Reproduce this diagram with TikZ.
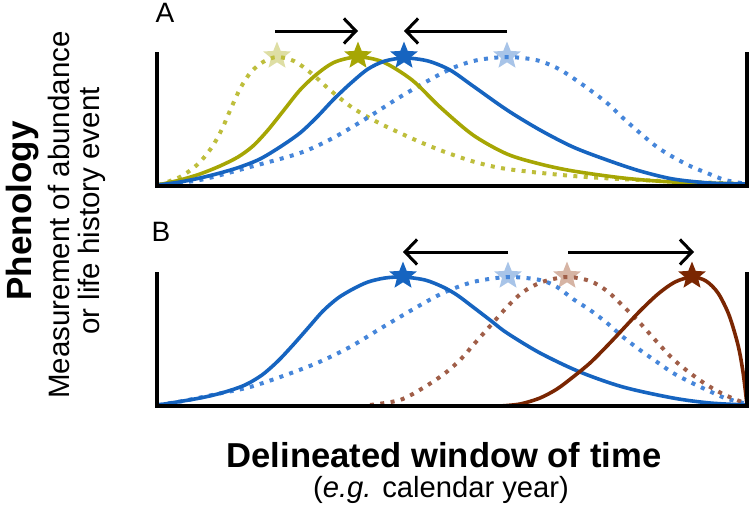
\documentclass[tikz,border=0pt]{standalone}
\usepackage{fontspec}
\setmainfont{Liberation Sans}
\usetikzlibrary{shapes.geometric,arrows.meta}
\definecolor{blueS}{RGB}{22,100,192}
\definecolor{blueD}{RGB}{70,134,218}
\definecolor{blueL}{RGB}{168,196,232}
\definecolor{oliveS}{RGB}{166,166,4}
\definecolor{oliveD}{RGB}{190,190,60}
\definecolor{oliveL}{RGB}{222,222,164}
\definecolor{brownS}{RGB}{122,38,2}
\definecolor{brownD}{RGB}{160,94,72}
\definecolor{brownL}{RGB}{214,180,164}
\begin{document}
\begin{tikzpicture}[x=1pt,y=-1pt,
  axisline/.style={line width=3.4pt, line join=miter},
  solidcurve/.style={line width=3.6pt, line join=round},
  dotcurve/.style={line width=4pt, dash pattern=on 4pt off 6.4pt},
  starmark/.style={star, star points=5, star point ratio=2.3, minimum size=29pt, inner sep=0pt, draw=none},
  shiftarrow/.style={line width=3pt, -{Straight Barb[length=12pt,width=25pt]}},
  lab/.style={inner sep=0pt, font=\fontsize{28}{30}\selectfont}
]
\useasboundingbox (0,0) rectangle (750,509);

% ---------- Panel A ----------
\coordinate (A1) at (157,52);
\coordinate (A2) at (157,186);
\coordinate (A3) at (747,186);
\coordinate (A4) at (747,52);
\node[lab] (labA) at (165,13) {A};

% light stars (behind dotted curves)
\node[starmark, fill=oliveL] (sOA) at (277,56) {};
\node[starmark, fill=blueL] (sBA) at (507,56) {};

% olive dotted
\draw[dotcurve, oliveD] plot[smooth] coordinates {(158,185) (180,177) (198,164) (212,147) (222,129) (232,106) (241,87) (251,72) (263,62) (277,57) (294,61) (311,73) (330,90) (350,106) (366,116) (383,125) (400,133) (420,142) (445,152) (475,162) (507,169) (573,176) (640,180) (747,184)};
% blue dotted
\draw[dotcurve, blueD] plot[smooth] coordinates {(158,185) (200,180) (250,167) (300,153) (333,138) (367,118) (400,97) (433,78) (455,67) (478,60) (507,57) (536,60) (557,68) (573,78) (590,90) (607,103) (623,118) (640,133) (657,147) (673,157) (690,166) (707,173) (725,180) (747,184)};
% olive solid
\draw[solidcurve, oliveS] plot[smooth] coordinates {(158,185) (180,180) (200,174) (220,166) (238,157) (253,146) (268,130) (284,110) (300,90) (317,74) (335,62) (358,57) (383,62) (412,80) (440,107) (473,135) (507,154) (540,164) (573,171) (623,178) (673,182) (747,184)};
% blue solid
\draw[solidcurve, blueS] plot[smooth] coordinates {(158,185) (180,182) (200,178) (220,173) (240,167) (260,159) (280,147) (300,133) (317,117) (334,99) (351,83) (368,69) (385,61) (405,58) (428,61) (450,70) (473,86) (507,110) (540,130) (573,147) (607,160) (640,171) (673,179) (710,183) (747,184)};

\draw[axisline] (A1) -- (A2) -- (A3) -- (A4);

% solid stars
\node[starmark, fill=oliveS] (sOA2) at (358,56) {};
\node[starmark, fill=blueS] (sBA2) at (404,56) {};

% arrows A
\coordinate (ar1s) at (275,31);
\coordinate (ar1e) at (358,31);
\coordinate (ar2s) at (507,31);
\coordinate (ar2e) at (404,31);
\draw[shiftarrow] (ar1s) -- (ar1e);
\draw[shiftarrow] (ar2s) -- (ar2e);

% ---------- Panel B ----------
\coordinate (B1) at (157,272);
\coordinate (B2) at (157,406);
\coordinate (B3) at (747,406);
\coordinate (B4) at (747,272);
\node[lab] (labB) at (161,232) {B};

\node[starmark, fill=blueL] (sBB) at (508,276) {};
\node[starmark, fill=brownL] (sRB) at (567,276) {};

% blue dotted B
\draw[dotcurve, blueD] plot[smooth] coordinates {(158,405) (183,401) (217,394) (250,387) (283,376) (317,363) (350,347) (383,327) (417,307) (443,293) (473,282) (508,277) (540,280) (557,287) (573,299) (590,310) (607,323) (623,337) (640,350) (657,362) (673,373) (690,382) (707,390) (725,398) (747,404)};
% brown dotted B
\draw[dotcurve, brownD] plot[smooth] coordinates {(370,405) (400,400) (423,388) (444,374) (460,360) (475,343) (491,325) (507,307) (523,292) (542,282) (567,277) (590,281) (607,291) (623,306) (640,323) (657,342) (673,359) (690,373) (707,385) (725,395) (747,404)};
% blue solid B
\draw[solidcurve, blueS] plot[smooth] coordinates {(158,405) (183,401) (205,397) (225,392) (245,385) (262,375) (278,361) (293,345) (308,328) (323,311) (338,298) (353,289) (368,282) (385,278) (403,277) (425,280) (443,287) (457,295) (473,307) (490,320) (507,333) (540,353) (580,372) (623,387) (673,398) (710,403) (747,405)};
% brown solid B
\draw[solidcurve, brownS] plot[smooth] coordinates {(500,406) (520,404) (540,398) (557,389) (573,377) (590,363) (607,346) (624,328) (640,311) (658,294) (675,282) (692,277) (706,281) (718,293) (729,315) (738,345) (743,372) (747,405)};

\draw[axisline] (B1) -- (B2) -- (B3) -- (B4);

\node[starmark, fill=blueS] (sBB2) at (403,276) {};
\node[starmark, fill=brownS] (sRB2) at (692,276) {};

% arrows B
\coordinate (br1s) at (508,252);
\coordinate (br1e) at (403,252);
\coordinate (br2s) at (568,252);
\coordinate (br2e) at (694,252);
\draw[shiftarrow] (br1s) -- (br1e);
\draw[shiftarrow] (br2s) -- (br2e);

% ---------- Axis titles ----------
\node[inner sep=0pt, anchor=base, rotate=90, font=\fontsize{35}{40}\selectfont\bfseries] (ytitle) at (31,211) {Phenology};
\node[inner sep=0pt, anchor=base, rotate=90, font=\fontsize{29.5}{32}\selectfont] (ysub1) at (69,215) {Measurement of abundance};
\node[inner sep=0pt, anchor=base, rotate=90, font=\fontsize{29.5}{32}\selectfont] (ysub2) at (99,211) {or life history event};

\node[inner sep=0pt, anchor=base, font=\fontsize{34.6}{40}\selectfont\bfseries] (xtitle) at (444,467) {Delineated window of time};
\node[inner sep=0pt, anchor=base, font=\fontsize{29.2}{32}\selectfont] (xsub) at (441,497) {(\textit{e.g.} calendar year)};
\end{tikzpicture}
\end{document}
